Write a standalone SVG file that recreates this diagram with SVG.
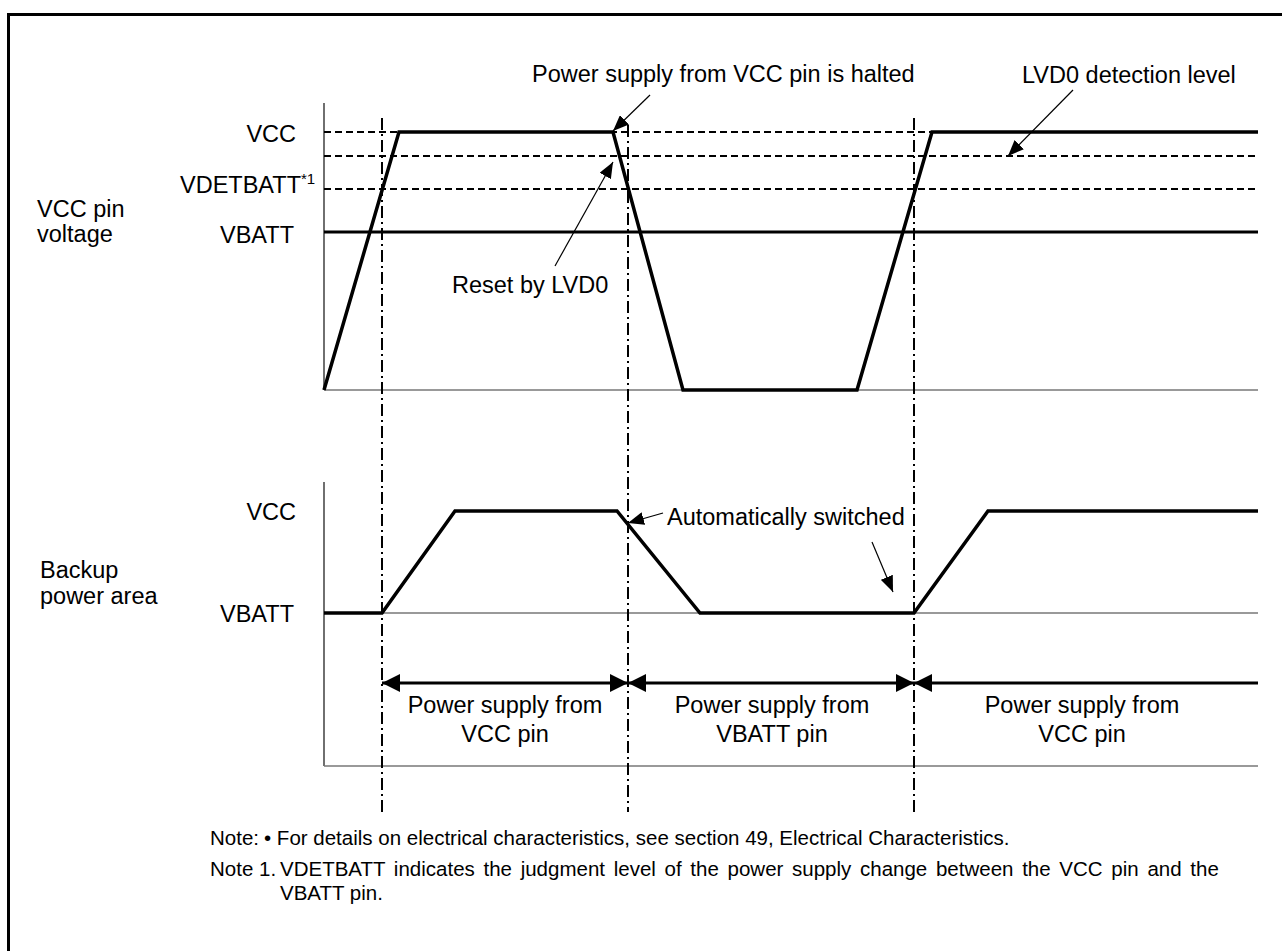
<svg xmlns="http://www.w3.org/2000/svg" width="1282" height="951" viewBox="0 0 1282 951">
<style>
text{font-family:"Liberation Sans",Arial,sans-serif;fill:#000}
.lbl{font-size:23.5px}
.note{font-size:20.5px}
.wave{fill:none;stroke:#000;stroke-width:3.5;stroke-linejoin:miter}
.dash{stroke:#000;stroke-width:2;stroke-dasharray:7 4;fill:none}
.dd{stroke:#000;stroke-width:2;stroke-dasharray:12 4 2 4;fill:none}
.axis{stroke:#222;stroke-width:1.3;fill:none}
.gray{stroke:#777;stroke-width:1.6;fill:none}
.span{stroke:#000;stroke-width:3;fill:none}
.ptr{stroke:#000;stroke-width:1.2;fill:none}
</style>
<defs>
<marker id="big" viewBox="0 0 18 18" refX="18" refY="9" markerWidth="18" markerHeight="18" markerUnits="userSpaceOnUse" orient="auto-start-reverse">
<path d="M0,0 L18,9 L0,18 z" fill="#000"/>
</marker>
<marker id="small" viewBox="0 0 16 13" refX="16" refY="6.5" markerWidth="16" markerHeight="13" markerUnits="userSpaceOnUse" orient="auto">
<path d="M0,0 L16,6.5 L0,13 z" fill="#000"/>
</marker>
</defs>
<rect width="1282" height="951" fill="#fff"/>
<rect id="frame" x="8.5" y="14.5" width="1300" height="960" fill="none" stroke="#000" stroke-width="3"/>

<g id="upper-chart">
<line class="axis" x1="324" y1="103" x2="324" y2="390"/>
<line class="gray" x1="324" y1="390" x2="1258" y2="390"/>
<line class="dash" x1="324" y1="132" x2="1258" y2="132"/>
<line class="dash" x1="324" y1="156" x2="1258" y2="156"/>
<line class="dash" x1="324" y1="189" x2="1258" y2="189"/>
<line x1="324" y1="232" x2="1258" y2="232" stroke="#000" stroke-width="3"/>
<polyline class="wave" points="324,390 399,132 613,132 683,390 857,390 932,132 1258,132"/>
</g>

<g id="lower-chart">
<line class="axis" x1="324" y1="482" x2="324" y2="766"/>
<line class="gray" x1="324" y1="766" x2="1258" y2="766"/>
<line class="gray" x1="324" y1="613" x2="1258" y2="613"/>
<polyline class="wave" points="324,613 382,613 455,511 617,511 700,613 914,613 988,511 1258,511"/>
</g>

<g id="markers-vertical">
<line class="dd" x1="382" y1="118" x2="382" y2="812"/>
<line class="dd" x1="628" y1="125" x2="628" y2="812"/>
<line class="dd" x1="914" y1="118" x2="914" y2="812"/>
</g>

<g id="connectors">
<line class="ptr" x1="650" y1="95" x2="613" y2="131" marker-end="url(#small)"/>
<line class="ptr" x1="555" y1="266" x2="613" y2="162" marker-end="url(#small)"/>
<line class="ptr" x1="1073" y1="90" x2="1008" y2="156" marker-end="url(#small)"/>
<line class="ptr" x1="663" y1="513" x2="628" y2="523" marker-end="url(#small)"/>
<line class="ptr" x1="872" y1="542" x2="893" y2="592" marker-end="url(#small)"/>
<line class="span" x1="382" y1="683" x2="628" y2="683" marker-start="url(#big)" marker-end="url(#big)"/>
<line class="span" x1="628" y1="683" x2="914" y2="683" marker-start="url(#big)" marker-end="url(#big)"/>
<line class="span" x1="914" y1="683" x2="1258" y2="683" marker-start="url(#big)"/>
</g>

<g id="label-halted"><text class="lbl" x="532" y="82">Power supply from VCC pin is halted</text></g>
<g id="label-lvd0-level"><text class="lbl" x="1022" y="83">LVD0 detection level</text></g>
<g id="label-reset"><text class="lbl" x="452" y="293">Reset by LVD0</text></g>
<g id="label-auto"><text class="lbl" x="667" y="525">Automatically switched</text></g>

<g id="label-vcc-pin"><text class="lbl" x="37" y="217">VCC pin</text><text class="lbl" x="37" y="242">voltage</text></g>
<g id="label-up-vcc"><text class="lbl" x="296" y="142" text-anchor="end">VCC</text></g>
<g id="label-vdetbatt"><text class="lbl" x="180" y="193">VDETBATT<tspan font-size="15" dy="-9">*1</tspan></text></g>
<g id="label-up-vbatt"><text class="lbl" x="294" y="243" text-anchor="end">VBATT</text></g>

<g id="label-backup"><text class="lbl" x="40" y="578">Backup</text><text class="lbl" x="40" y="604">power area</text></g>
<g id="label-lo-vcc"><text class="lbl" x="296" y="520" text-anchor="end">VCC</text></g>
<g id="label-lo-vbatt"><text class="lbl" x="294" y="622" text-anchor="end">VBATT</text></g>

<g id="label-span1"><text class="lbl" x="505" y="713" text-anchor="middle">Power supply from</text><text class="lbl" x="505" y="742" text-anchor="middle">VCC pin</text></g>
<g id="label-span2"><text class="lbl" x="772" y="713" text-anchor="middle">Power supply from</text><text class="lbl" x="772" y="742" text-anchor="middle">VBATT pin</text></g>
<g id="label-span3"><text class="lbl" x="1082" y="713" text-anchor="middle">Power supply from</text><text class="lbl" x="1082" y="742" text-anchor="middle">VCC pin</text></g>

<g id="notes">
<text class="note" x="210" y="845">Note:</text>
<text class="note" x="264" y="845">• For details on electrical characteristics, see section 49, Electrical Characteristics.</text>
<text class="note" x="210" y="876">Note 1.</text>
<text class="note" x="280" y="876" word-spacing="3">VDETBATT indicates the judgment level of the power supply change between the VCC pin and the</text>
<text class="note" x="280" y="900">VBATT pin.</text>
</g>
</svg>
